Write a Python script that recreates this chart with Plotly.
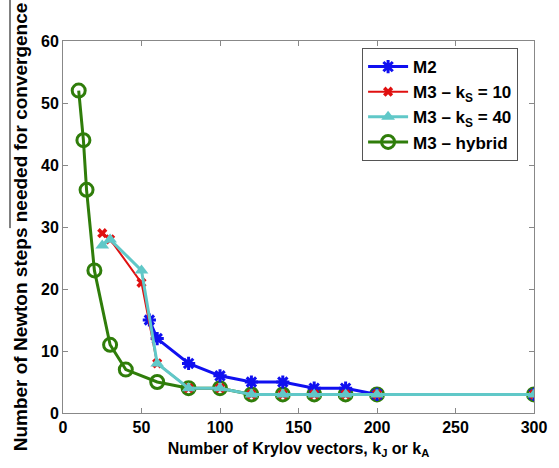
import plotly.graph_objects as go

# Data
m2_x = [55, 60, 80, 100, 120, 140, 160, 180, 200, 300]
m2_y = [15, 12, 8, 6, 5, 5, 4, 4, 3, 3]

ks10_x = [25, 30, 50, 60, 80, 100, 120, 140, 160, 180, 200, 300]
ks10_y = [29, 28, 21, 8, 4, 4, 3, 3, 3, 3, 3, 3]

ks40_x = [25, 30, 50, 60, 80, 100, 120, 140, 160, 180, 200, 300]
ks40_y = [27, 28, 23, 8, 4, 4, 3, 3, 3, 3, 3, 3]

hyb_x = [10, 13, 15, 20, 30, 40, 60, 80, 100, 120, 140, 160, 180, 200, 300]
hyb_y = [52, 44, 36, 23, 11, 7, 5, 4, 4, 3, 3, 3, 3, 3, 3]

x_ticks = [0, 50, 100, 150, 200, 250, 300]
y_ticks = [0, 10, 20, 30, 40, 50, 60]

BLUE = "#1010F0"
RED = "#E01010"
CYAN = "#60C8C8"
GREEN = "#2F7D0A"
FONT = "Liberation Sans, Arial"

fig = go.Figure()

fig.add_trace(go.Scatter(
    x=hyb_x, y=hyb_y, mode="lines+markers", name="M3 – hybrid",
    line=dict(color=GREEN, width=3),
    marker=dict(symbol="circle-open", size=13, color=GREEN, line=dict(width=3, color=GREEN)),
    legendrank=4,
))
fig.add_trace(go.Scatter(
    x=m2_x, y=m2_y, mode="lines+markers", name="M2",
    line=dict(color=BLUE, width=3),
    marker=dict(symbol="asterisk-open", size=11, color=BLUE, line=dict(width=3, color=BLUE)),
    legendrank=1,
))
fig.add_trace(go.Scatter(
    x=ks10_x, y=ks10_y, mode="lines+markers", name="M3 – k<sub>S</sub> = 10",
    line=dict(color=RED, width=2),
    marker=dict(symbol="x", size=9, color=RED),
    legendrank=2,
))
fig.add_trace(go.Scatter(
    x=ks40_x, y=ks40_y, mode="lines+markers", name="M3 – k<sub>S</sub> = 40",
    line=dict(color=CYAN, width=3),
    marker=dict(symbol="triangle-up", size=12, color=CYAN),
    legendrank=3,
))

axis_common = dict(
    showgrid=False, zeroline=False, showline=True, linecolor="#888888", linewidth=1,
    mirror="ticks", ticks="inside", ticklen=5, tickcolor="#888888",
    tickfont=dict(family=FONT, size=16, color="black", weight="bold"),
)

fig.update_xaxes(
    range=[0, 300], tickvals=x_ticks, ticktext=[str(v) for v in x_ticks],
    title=dict(text="<b>Number of Krylov vectors, k<sub>J</sub> or k<sub>A</sub></b>",
               font=dict(family=FONT, size=16, color="black"), standoff=7),
    **axis_common,
)
fig.update_yaxes(
    range=[0, 60], tickvals=y_ticks, ticktext=[str(v) for v in y_ticks],
    title=dict(text="<b>Number of Newton steps needed for convergence</b>",
               font=dict(family=FONT, size=19, color="black"), standoff=8),
    **axis_common,
)

fig.add_shape(type="line", xref="paper", yref="paper",
              x0=-0.1125, x1=-0.1125, y0=0.497, y1=1.12,
              line=dict(color="black", width=1))

fig.update_layout(
    width=559, height=468,
    margin=dict(l=63, r=16, t=41, b=55),
    paper_bgcolor="white", plot_bgcolor="white",
    legend=dict(
        x=0.635, y=0.981, xanchor="left", yanchor="top",
        bordercolor="#555555", borderwidth=1, bgcolor="white",
        font=dict(family=FONT, size=17, color="black", weight="bold"),
        itemwidth=40, tracegroupgap=4,
    ),
    showlegend=True,
)

fig.write_html("out.html")
